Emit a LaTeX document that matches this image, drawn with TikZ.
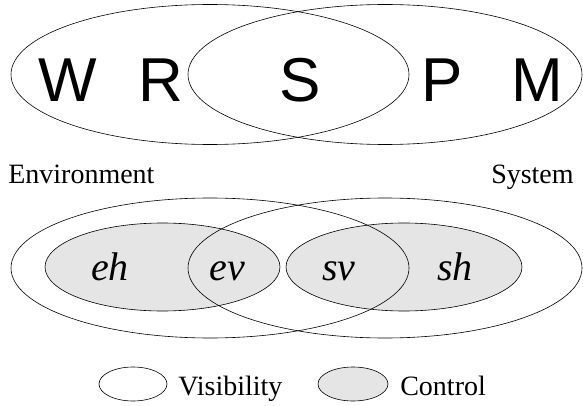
\documentclass[tikz,border=0pt]{standalone}
\usepackage{fontspec}
\setmainfont{Liberation Serif}
\newfontfamily\letterfont{Liberation Sans}
\definecolor{ctrlgray}{HTML}{E5E5E5}
\begin{document}
\begin{tikzpicture}[x=1pt,y=-1pt,line width=0.6pt,
  outline/.style={draw=black},
  ctrl/.style={fill=ctrlgray},
  bigletter/.style={inner sep=0pt,anchor=base,font=\letterfont\fontsize{62}{62}\selectfont},
  phen/.style={inner sep=0pt,anchor=base,font=\fontsize{40}{40}\selectfont\itshape},
  caption/.style={inner sep=0pt,anchor=base,font=\fontsize{28}{28}\selectfont}]
\useasboundingbox (0,0) rectangle (583,406);

% upper pair: environment and system
\draw[outline] (210,74.5) ellipse [x radius=199, y radius=70];
\draw[outline] (385,74.5) ellipse [x radius=197, y radius=70];
\node[bigletter] (W) at (68,102) {W};
\node[bigletter] (R) at (161,102) {R};
\node[bigletter] (S) at (300,102) {S};
\node[bigletter] (P) at (442,102) {P};
\node[bigletter] (M) at (537,102) {M};

\node[caption,anchor=base west] (env) at (8,183) {Environment};
\node[caption,anchor=base east] (sys) at (574,183) {System};

% lower pair: controlled phenomena (shaded) inside visibility regions
\fill[ctrl] (162.5,267) ellipse [x radius=117.5, y radius=44];
\fill[ctrl] (404,267) ellipse [x radius=118, y radius=44];
\draw[outline] (162.5,267) ellipse [x radius=117.5, y radius=44];
\draw[outline] (404,267) ellipse [x radius=118, y radius=44];
\draw[outline] (210,268) ellipse [x radius=199, y radius=70];
\draw[outline] (385,268) ellipse [x radius=197, y radius=70];
\node[phen] (eh) at (110,280) {eh};
\node[phen] (ev) at (227,280) {ev};
\node[phen] (sv) at (339,280) {sv};
\node[phen] (sh) at (455,280) {sh};

% legend
\draw[outline] (133,384) ellipse [x radius=34, y radius=17];
\node[caption,anchor=base west] (vis) at (178,395) {Visibility};
\draw[outline,ctrl] (353,384) ellipse [x radius=35, y radius=17];
\node[caption,anchor=base west] (con) at (400,395) {Control};
\end{tikzpicture}
\end{document}
